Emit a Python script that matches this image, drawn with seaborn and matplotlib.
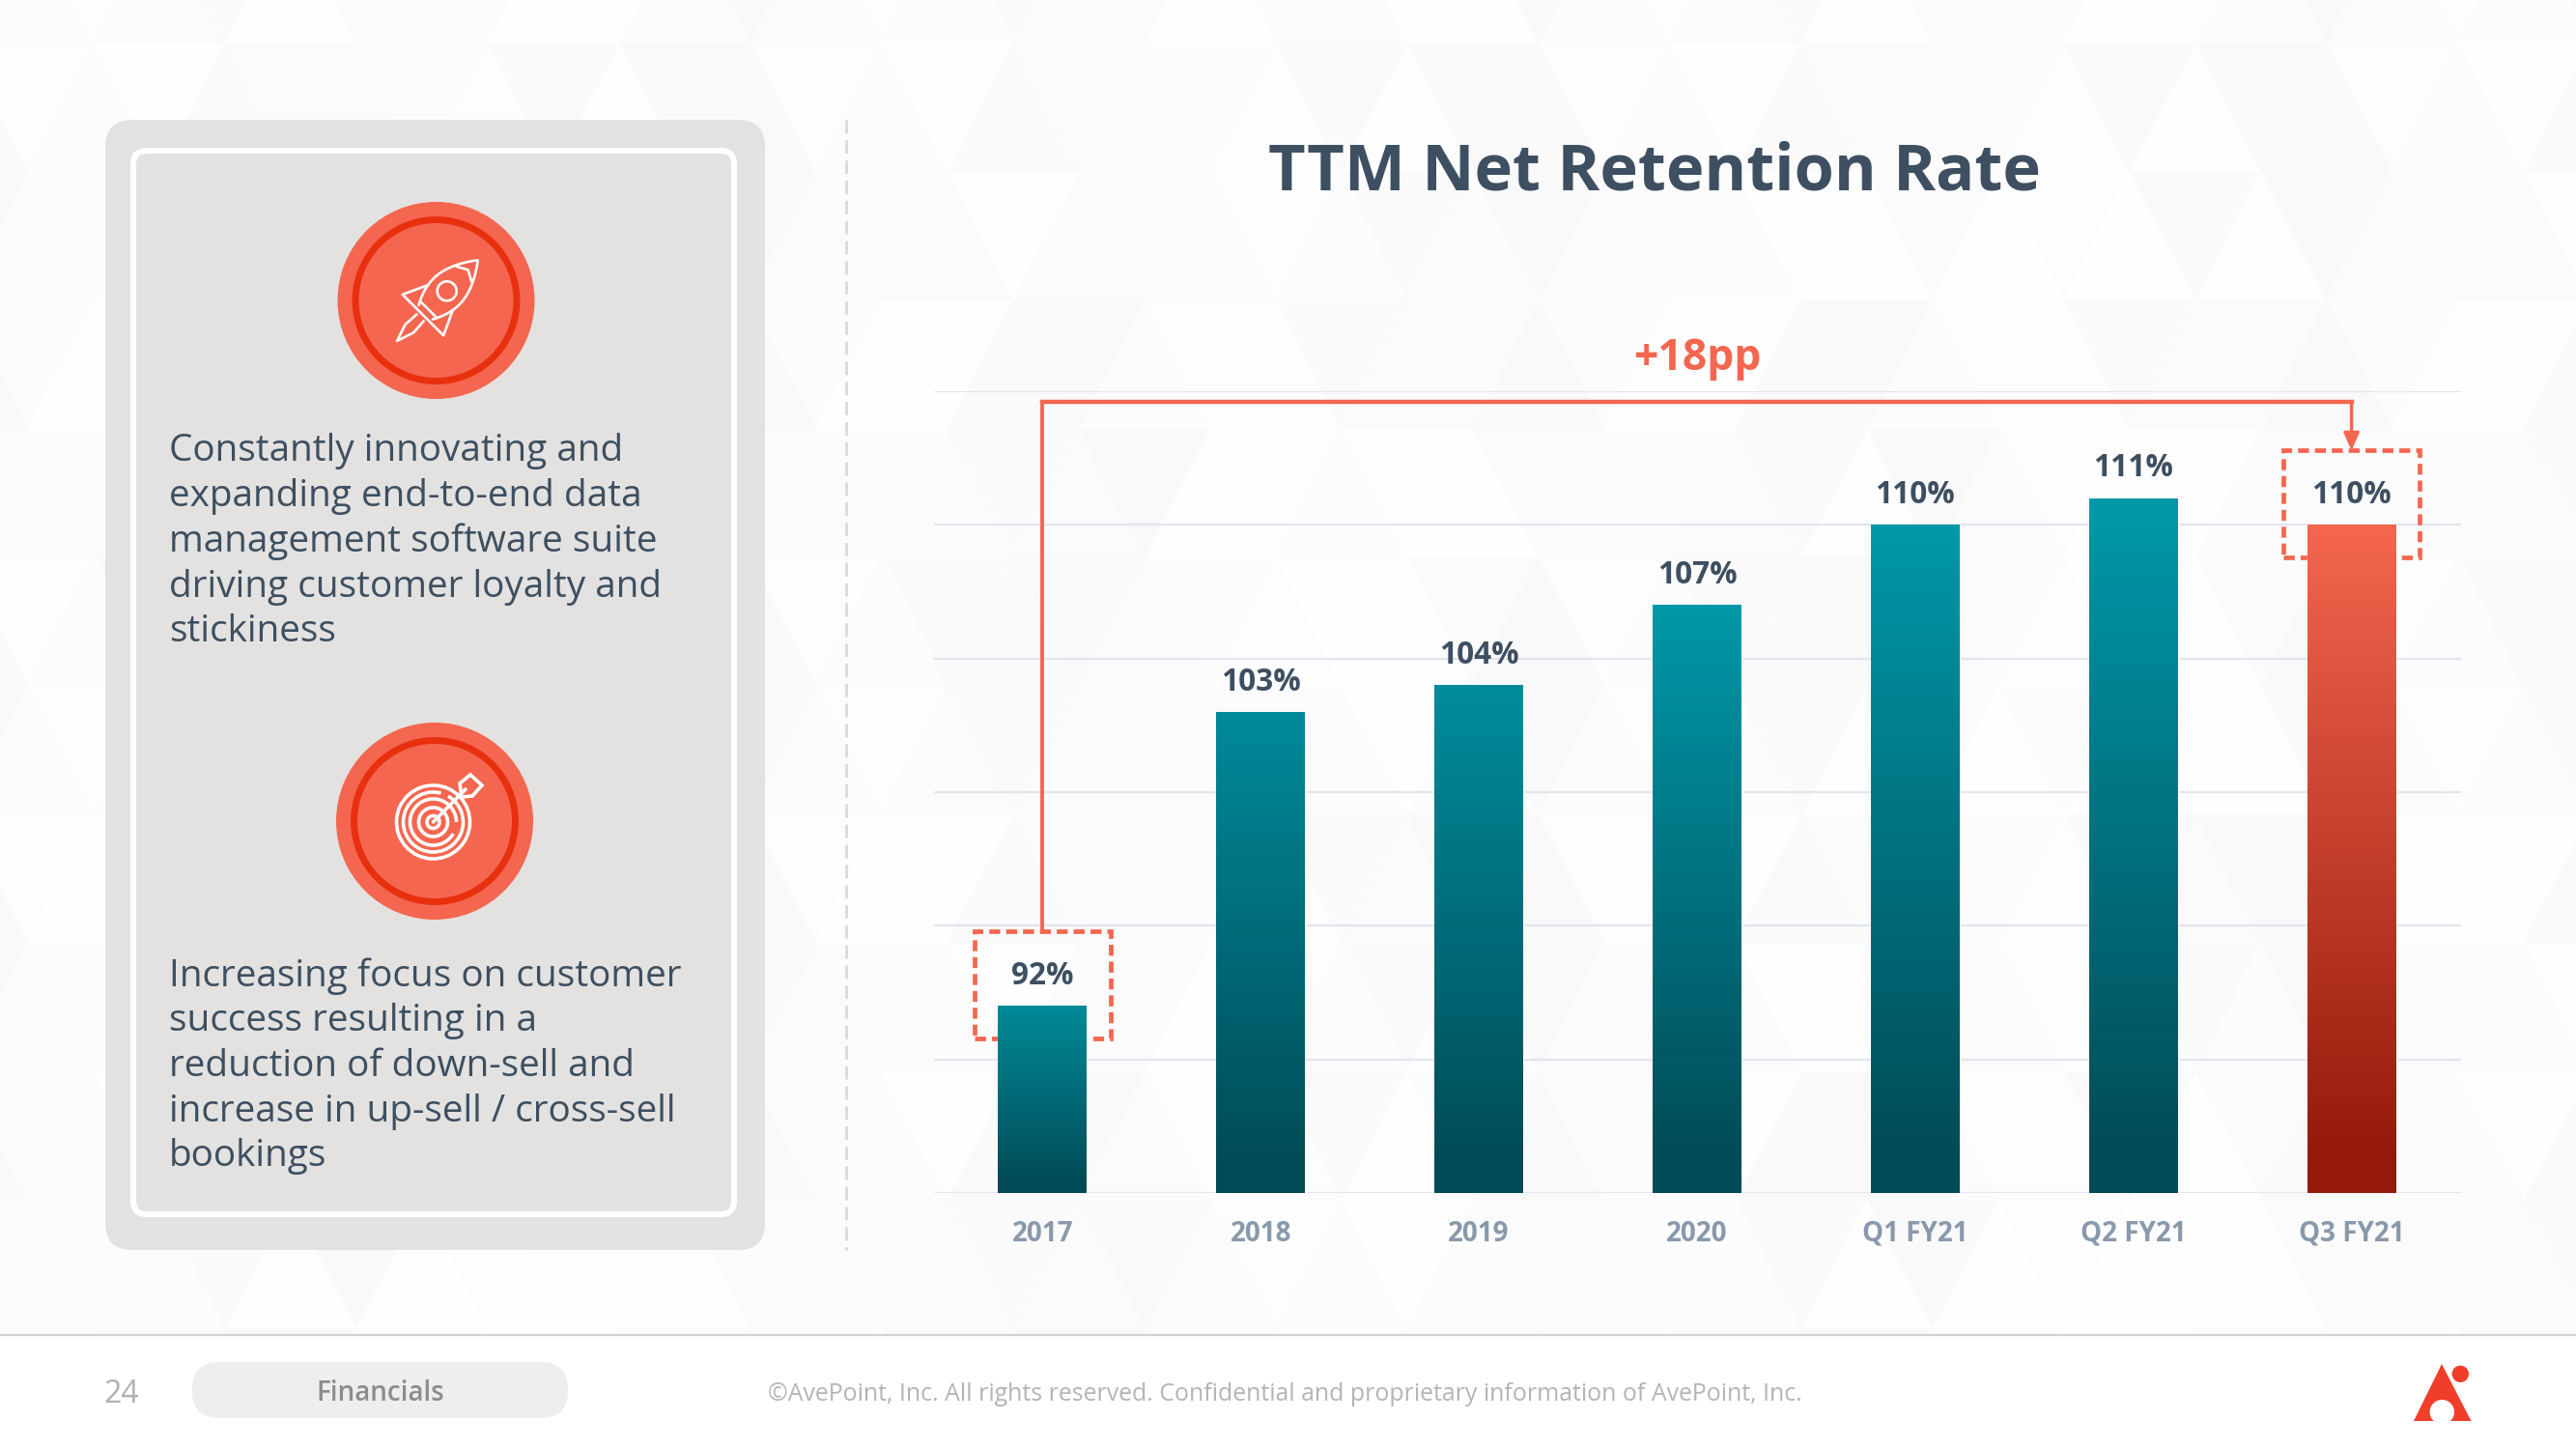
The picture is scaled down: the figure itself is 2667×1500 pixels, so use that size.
import numpy as np
import pandas as pd
import matplotlib
matplotlib.use("Agg")
import matplotlib.pyplot as plt
import seaborn as sns
from matplotlib.collections import PolyCollection
from matplotlib.colors import LinearSegmentedColormap
from matplotlib.patches import Circle, FancyBboxPatch, Polygon, Rectangle, Arc

periods = ["2017", "2018", "2019", "2020", "Q1 FY21", "Q2 FY21", "Q3 FY21"]
retention = [92, 103, 104, 107, 110, 111, 110]
value_labels = ["92%", "103%", "104%", "107%", "110%", "111%", "110%"]
bar_tops = ["#008A98", "#008A9A", "#008C9C", "#0098A8", "#0098A8", "#0099A9", "#F4664F"]
bar_bottoms = ["#004B56", "#004B56", "#004B56", "#004B56", "#004B56", "#004B56", "#94190A"]
highlighted = [0, 6]

title = "TTM Net Retention Rate"
growth_label = "+18pp"
text_block_1 = ["Constantly innovating and", "expanding end-to-end data", "management software suite",
                "driving customer loyalty and", "stickiness"]
text_block_2 = ["Increasing focus on customer", "success resulting in a", "reduction of down-sell and",
                "increase in up-sell / cross-sell", "bookings"]
footer_note = "©AvePoint, Inc. All rights reserved. Confidential and proprietary information of AvePoint, Inc."

CORAL = "#F4664F"
RING = "#E8300F"
NAVY = "#3D4F60"
W, H = 2667, 1500

sns.set_theme(style="whitegrid")
plt.rcParams["font.family"] = ["Open Sans", "DejaVu Sans"]
plt.rcParams["axes.unicode_minus"] = False

fig = plt.figure(figsize=(W / 100, H / 100), dpi=100, facecolor="white")

# page layer, works in reference pixels
bg = fig.add_axes([0, 0, 1, 1], zorder=0)
bg.set_xlim(0, W)
bg.set_ylim(H, 0)
bg.axis("off")

# faint triangle wallpaper
shades = ["#FDFDFD", "#FBFBFB", "#FAFAFA", "#FCFCFC", "#F9F9F9", "#FEFEFE"]
tri_w, tri_h = 136, 133
polys, cols = [], []
for r in range(-1, 12):
    y0 = 45 + r * tri_h
    for c in range(-2, 42):
        x0 = 2341 - 20 * tri_w + c * tri_w + (r % 2) * tri_w / 2
        polys.append([(x0, y0 + tri_h), (x0 + tri_w, y0 + tri_h), (x0 + tri_w / 2, y0)])
        cols.append(shades[(c * 5 + r * 3 + (c * r) % 4) % 6])
        polys.append([(x0 + tri_w / 2, y0), (x0 + 1.5 * tri_w, y0), (x0 + tri_w, y0 + tri_h)])
        cols.append(shades[(c * 7 + r * 11 + 2 + (c + r) % 3) % 6])
bg.add_collection(PolyCollection(polys, facecolors=cols, edgecolors="none", zorder=0))

# left panel
bg.add_patch(FancyBboxPatch((109, 124), 683, 1170, boxstyle="round,pad=0,rounding_size=28",
                            facecolor="#E3E2E1", edgecolor="none", zorder=1))
bg.add_patch(FancyBboxPatch((138, 156), 622, 1101, boxstyle="round,pad=0,rounding_size=14",
                            facecolor="none", edgecolor="white", linewidth=4.4, zorder=2))


def badge(cx, cy):
    bg.add_patch(Circle((cx, cy), 102, facecolor=CORAL, edgecolor="none", zorder=3))
    bg.add_patch(Circle((cx, cy), 83.5, facecolor="none", edgecolor=RING, linewidth=5, zorder=4))


badge(451.5, 311)
badge(450, 850)

# rocket icon, u runs from the nose to the tail, v across
tip = np.array([494.5, 269.5])
axis_u = np.array([-0.707, 0.707])
axis_v = np.array([0.707, 0.707])


def rocket_line(u, v, **kw):
    pts = tip + np.outer(u, axis_u) + np.outer(v, axis_v)
    bg.plot(pts[:, 0], pts[:, 1], color="white", lw=1.9, solid_capstyle="round", zorder=5, **kw)


uu = np.linspace(0, 76, 40)
vv = 19 * np.sin(np.pi * (uu / 76) * 0.83) ** 0.9
rocket_line(uu, vv)
rocket_line(uu, -vv)
rocket_line(np.array([20, 14, 20]), np.array([-11, 0, 11]))
rocket_line(np.array([54, 80, 80, 54]), np.array([-18, -30, 30, 18]))
rocket_line(np.array([72, 72]), np.array([-12, 12]))
rocket_line(np.array([84, 100, 118, 100, 84]), np.array([-5, -6, 0, 6, 5]))
bg.add_patch(Circle(tuple(tip + 45 * axis_u), 10, facecolor="none", edgecolor="white", linewidth=1.9, zorder=5))

# target icon
tx, ty = 448.5, 851
for rad, start, end in [(38, -20, 340), (31, -60, 285), (24, 30, 360), (15, 0, 360), (6.5, 0, 360)]:
    bg.add_patch(Arc((tx, ty), 2 * rad, 2 * rad, theta1=start, theta2=end, color="white", lw=2.6, zorder=5))
bg.plot([tx, 482], [ty, 817], color="white", lw=2.6, solid_capstyle="round", zorder=5)
bg.add_patch(Polygon([(476, 811), (487, 802), (499, 813), (489, 824), (478, 825)], closed=True,
                     facecolor="none", edgecolor="white", linewidth=2.6, zorder=5))

for i, line in enumerate(text_block_1):
    bg.text(175, 477.5 + i * 46.7, line, fontsize=27.9, color=NAVY, va="baseline", zorder=6)
for i, line in enumerate(text_block_2):
    bg.text(175, 1020.5 + i * 46.7, line, fontsize=27.9, color=NAVY, va="baseline", zorder=6)

bg.plot([876, 876], [124, 1294], color="#DADADA", lw=2, ls=(0, (5, 2.5)), zorder=1)
bg.text(1713, 179, title, fontsize=48.1, fontweight="bold", color=NAVY, ha="center", va="center", zorder=6)

# footer
bg.add_patch(Rectangle((0, 1382), W, H - 1382, facecolor="white", edgecolor="none", zorder=2))
bg.plot([0, W], [1381.5, 1381.5], color="#D2D2D2", lw=1.6, zorder=3)
bg.text(126, 1444, "24", fontsize=23, color="#B0B0B0", ha="center", va="center", zorder=4)
bg.add_patch(FancyBboxPatch((199, 1410), 389, 58, boxstyle="round,pad=0,rounding_size=28",
                            facecolor="#EEEEEE", edgecolor="none", zorder=3))
bg.text(394, 1443, "Financials", fontsize=20, fontweight="semibold", color="#8C8C8C",
        ha="center", va="center", zorder=4)
bg.text(795, 1443, footer_note, fontsize=17.9, color="#B4B4B4", ha="left", va="center", zorder=4)

# logo
bg.add_patch(Polygon([(2528, 1412), (2558.5, 1471), (2499, 1471)], closed=True, facecolor="#F03E2A",
                     edgecolor="none", zorder=4))
logo_hole = Circle((2528.3, 1461.7), 12.7, facecolor="white", edgecolor="none", zorder=5)
bg.add_patch(logo_hole)
logo_hole.set_clip_path(Rectangle((2490, 1400), 80, 71, transform=bg.transData))
bg.add_patch(Circle((2547.3, 1422.3), 8.7, facecolor="#F03E2A", edgecolor="none", zorder=4))

# chart layer
ax = fig.add_axes([966.5 / W, (H - 1235) / H, 1581 / W, 830 / H], zorder=1)
ax.patch.set_alpha(0)
df = pd.DataFrame({"period": periods, "retention": retention})
sns.barplot(data=df, x="period", y="retention", width=0.407, color="#008A98", saturation=1, ax=ax, zorder=3)
ax.set_xlim(-0.5, 6.5)
ax.set_ylim(85, 115)
ax.set_yticks(range(85, 116, 5))
ax.set_yticklabels([])
ax.set_xlabel("")
ax.set_ylabel("")
ax.set_axisbelow(True)
ax.grid(axis="x", visible=False)
ax.grid(axis="y", color="#E3E5F0", linewidth=1.6)
ax.tick_params(axis="both", length=0)
ax.tick_params(axis="x", pad=20, labelsize=20, labelcolor="#8899AB")
for lab in ax.get_xticklabels():
    lab.set_fontweight("bold")
sns.despine(ax=ax, left=True, bottom=True, right=True, top=True)

# top to bottom fade inside each bar
ramp = np.linspace(0, 1, 256).reshape(-1, 1)
for bar, c_top, c_bottom in zip(ax.patches, bar_tops, bar_bottoms):
    cmap = LinearSegmentedColormap.from_list("fade", [(0, c_top), (0.95, c_bottom), (1, c_bottom)])
    x0, x1 = bar.get_x(), bar.get_x() + bar.get_width()
    img = ax.imshow(ramp, cmap=cmap, aspect="auto", extent=(x0, x1, 85, bar.get_height()), zorder=3.1)
    img.set_clip_path(bar)
ax.set_xlim(-0.5, 6.5)
ax.set_ylim(85, 115)

for i, (val, lab) in enumerate(zip(retention, value_labels)):
    ax.annotate(lab, (i, val), xytext=(0, 22.2), textcoords="offset points", ha="center", va="center",
                fontsize=22.7, fontweight="bold", color=NAVY, zorder=6)

# dashed call-outs behind first and last bars
for i in highlighted:
    ax.add_patch(Rectangle((i - 0.3125, retention[i] - 1.2), 0.625, 3.98, facecolor="none", edgecolor=CORAL,
                           linewidth=3.4, linestyle=(0, (2.4, 1.3)), zorder=2.5))

top_y = 114.6
ax.plot([0, 0], [retention[0] + 2.78, top_y], color=CORAL, lw=2.8, zorder=5, solid_capstyle="butt")
ax.plot([0, 6], [top_y, top_y], color=CORAL, lw=3.2, zorder=5, solid_capstyle="projecting")
ax.annotate("", xy=(6, retention[6] + 2.78), xytext=(6, top_y),
            arrowprops=dict(arrowstyle="-|>,head_width=0.4,head_length=0.9", color=CORAL, lw=2.4,
                            shrinkA=0, shrinkB=0), zorder=5)
ax.text(3, 116.2, growth_label, fontsize=32, fontweight="bold", color=CORAL, ha="center", va="center")

fig.savefig("out.png", dpi=100, facecolor="white")
